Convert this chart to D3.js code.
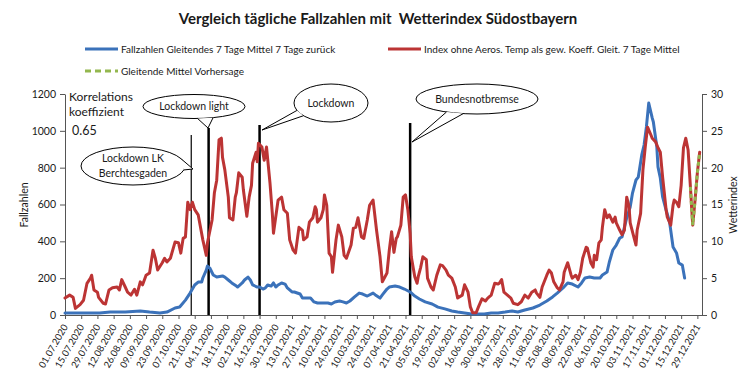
<!DOCTYPE html>
<html><head><meta charset="utf-8">
<script src="https://cdn.jsdelivr.net/npm/d3@7/dist/d3.min.js"></script>
<style>
body{margin:0;background:#fff}
svg{display:block}
text{font-family:Lato,"Liberation Sans",sans-serif;fill:#1a1a1a}
</style></head><body>
<svg id="c" width="756" height="379"></svg>
<script>
// ---------- DATA ----------
const startDate = "01.07.2020";
const xTickLabels = ["01.07.2020","15.07.2020","29.07.2020","12.08.2020","26.08.2020","09.09.2020","23.09.2020","07.10.2020","21.10.2020","04.11.2020","18.11.2020","02.12.2020","16.12.2020","30.12.2020","13.01.2021","27.01.2021","10.02.2021","24.02.2021","10.03.2021","24.03.2021","07.04.2021","21.04.2021","05.05.2021","19.05.2021","02.06.2021","16.06.2021","30.06.2021","14.07.2021","28.07.2021","11.08.2021","25.08.2021","08.09.2021","22.09.2021","06.10.2021","20.10.2021","03.11.2021","17.11.2021","01.12.2021","15.12.2021","29.12.2021"];
const leftTicks = [0,200,400,600,800,1000,1200];
const rightTicks = [0,5,10,15,20,25,30];

// day offsets from startDate
const blueDays = [0,13,30,39,52,65,73,82,88,95,
 99,104,108,112,115,118,119,122,123,125,
 128,131,136,138,141,144,148,149,153,155,
 158,160,162,166,168,171,173,175,178,180,
 182,184,187,190,192,196,198,203,205,209,
 212,215,218,223,227,230,233,237,240,243,
 246,250,254,257,261,266,268,272,274,278,
 280,285,289,293,298,302,306,311,317,322,
 328,334,339,345,351,356,362,368,374,380,
 386,391,397,404,410,416,421,425,430,434,
 438,443,446,449,453,457,462,464,468,470,
 473,476,479,481,485,488,490,493,495,498,
 500,502,504,507,508,511,512,514,516,519,
 522,525,528,530,533,535];
const blueValues = [11,11,11,16,16,22,16,11,16,38,
 43,81,119,163,179,179,201,244,266,255,
 217,206,212,206,190,174,157,152,174,190,
 206,190,163,152,152,141,147,163,157,174,
 152,163,174,168,147,125,125,114,92,92,
 92,71,65,65,65,60,71,76,71,65,
 76,98,119,114,103,119,109,92,109,141,
 152,157,152,141,125,103,87,71,60,43,
 33,22,16,11,5,5,5,11,11,16,
 22,16,27,38,54,76,98,119,147,174,
 168,152,174,201,206,201,201,217,233,288,
 353,380,418,424,527,586,662,733,749,869,
 923,1021,1151,1070,1048,912,804,744,641,570,
 505,369,337,282,271,201];

const redDays = [0,4,7,9,13,16,19,22,23,25,
 28,29,33,35,38,41,45,47,49,52,
 54,57,60,62,65,67,70,73,76,78,
 80,84,86,88,91,95,98,100,102,104,
 106,108,110,112,115,117,119,122,123,127,
 129,131,133,135,136,138,141,142,145,147,
 148,150,153,154,157,159,161,162,165,166,
 167,170,172,174,177,179,180,184,187,189,
 192,194,197,199,202,205,206,209,211,214,
 216,217,218,221,223,224,226,228,230,231,
 234,236,239,241,243,247,249,251,253,256,
 258,261,263,266,269,272,274,278,280,282,
 284,286,287,290,292,294,296,298,299,302,
 304,305,307,309,312,313,316,318,321,324,
 326,329,331,334,337,339,343,345,348,350,
 352,355,357,360,363,365,368,371,374,375,
 377,379,382,385,387,391,394,397,400,403,
 406,407,410,412,416,418,420,422,425,427,
 430,431,434,437,438,441,443,445,447,450,
 451,454,456,457,459,461,463,464,466,468,
 470,473,475,476,479,481,483,485,487,488,
 490,493,494,497,499,501,503,506,507,510,
 512,514,516,519,520,523,525,526,528,530,
 532,534,536,538,540,541,542,544,546,548];
const redValues = [2.3,2.7,2.4,0.9,1.4,2.0,4.3,5.0,5.4,3.4,
 3.1,2.4,1.6,1.5,3.4,3.7,3.8,3.4,4.8,3.8,
 3.1,2.7,3.5,2.7,4.5,4.1,5.4,5.7,8.8,7.7,
 6.1,7.1,7.7,7.2,7.7,9.9,9.8,8.4,10.4,10.6,
 15.3,14.3,15.3,14.3,13.6,11.9,10.2,8.1,9.8,12.9,
 16.6,18.3,23.8,24.0,21.4,19.7,16.0,13.2,12.9,16.0,
 16.6,19.3,18.7,17.0,13.4,16.0,17.6,20.6,22.1,20.8,
 23.3,22.8,21.0,22.8,17.9,13.8,11.1,15.6,16.0,14.3,
 13.8,10.2,8.8,8.4,11.9,11.5,10.2,10.6,12.6,13.2,
 14.7,14.3,12.6,13.2,14.3,16.3,14.9,8.4,7.9,5.8,
 10.2,12.2,10.6,8.1,7.7,9.5,11.8,11.9,13.2,10.6,
 10.4,12.9,14.9,15.6,11.5,7.9,4.5,5.7,8.8,11.3,
 8.5,10.4,10.6,12.2,16.0,16.3,14.3,11.1,7.9,5.2,
 4.3,5.2,6.4,7.9,7.5,5.0,3.8,3.4,5.4,6.8,
 6.7,6.1,5.4,5.0,3.8,2.3,2.7,4.1,3.1,1.1,
 0.3,0.3,1.1,2.2,1.9,2.3,2.7,4.3,4.2,4.3,
 4.8,3.1,2.7,2.3,1.6,1.4,1.8,2.7,2.3,3.1,
 3.4,3.0,2.4,3.8,5.4,6.1,5.7,4.5,3.7,3.4,
 4.5,5.8,7.1,5.4,5.0,5.4,4.8,5.8,7.7,9.2,
 9.1,7.1,6.5,8.1,7.5,9.8,10.2,11.9,14.3,13.2,
 13.6,12.6,13.3,12.5,11.5,10.9,11.5,16.0,14.7,12.5,
 11.3,9.5,11.5,13.8,19.7,22.8,25.5,24.4,24.0,23.5,
 22.7,22.1,18.7,14.3,13.3,12.2,14.9,15.6,15.3,14.7,
 17.6,22.7,24.0,22.4,17.4,14.7,12.2,15.6,19.3,22.1];

const forecastDays = [540,541,542,544,546,548];
const forecastValues = [17.4,14.7,12.2,15.6,19.3,22.1];

const eventDays = [109,124,168,298];
const eventLabels = [["Lockdown LK","Berchtesgaden"],["Lockdown light"],["Lockdown"],["Bundesnotbremse"]];

const title = "Vergleich tägliche Fallzahlen mit  Wetterindex Südostbayern";
const legendLabels = ["Fallzahlen Gleitendes 7 Tage Mittel 7 Tage zurück","Index ohne Aeros. Temp als gew. Koeff. Gleit. 7 Tage Mittel","Gleitende Mittel Vorhersage"];
const corrLabel = ["Korrelations","koeffizient","0.65"];

// ---------- STYLE / LAYOUT ----------
const BLUE="#3B72BA", RED="#BC3434", GREEN="#93B74E", AX="#555";
const L=65, R=702, T=94, B=315;
const svg = d3.select("#c");
const parse = d3.utcParse("%d.%m.%Y");
const t0 = parse(startDate);
const day = n => d3.utcDay.offset(t0, n);

const x = d3.scaleUtc().domain([t0, day(550)]).range([L, R]);
const yL = d3.scaleLinear().domain([0,1200]).range([B,T]);
const yR = d3.scaleLinear().domain([0,30]).range([B,T]);

// title
svg.append("text").attr("x",378).attr("y",24).attr("text-anchor","middle")
  .attr("xml:space","preserve").style("white-space","pre")
  .style("font-weight","bold").style("font-size","15px").text(title);

// legend
const lg = svg.append("g").style("font-size","10px");
const legendItems = [
  {x:85, y:49, c:BLUE, dash:null, t:legendLabels[0]},
  {x:388,y:49, c:RED, dash:null, t:legendLabels[1]},
  {x:85, y:71, c:GREEN, dash:"6,4", t:legendLabels[2]}];
legendItems.forEach(d=>{
  lg.append("line").attr("x1",d.x).attr("x2",d.x+33).attr("y1",d.y).attr("y2",d.y)
    .attr("stroke",d.c).attr("stroke-width",3).attr("stroke-dasharray",d.dash);
  lg.append("text").attr("x",d.x+36).attr("y",d.y+3.5).text(d.t);
});

// axes
const gL = svg.append("g").attr("transform",`translate(${L},0)`)
  .call(d3.axisLeft(yL).tickValues(leftTicks).tickFormat(d3.format("d")).tickSize(5).tickSizeOuter(0).tickPadding(4));
const gR = svg.append("g").attr("transform",`translate(${R},0)`)
  .call(d3.axisRight(yR).tickValues(rightTicks).tickFormat(d3.format("d")).tickSize(5).tickSizeOuter(0).tickPadding(4));
const tickDates = xTickLabels.map(parse);
const gB = svg.append("g").attr("transform",`translate(0,${B})`)
  .call(d3.axisBottom(x).tickValues(tickDates).tickFormat((d,i)=>xTickLabels[i]).tickSize(4).tickSizeOuter(0));
gB.selectAll("text").attr("x",0).attr("y",0).attr("dy","0.35em")
  .attr("text-anchor","end").attr("transform","translate(0,10) rotate(-60)")
  .style("font-size","9.5px");
[gL,gR].forEach(g=>g.selectAll("text").style("font-size","10.5px"));
[gL,gR,gB].forEach(g=>{
  g.selectAll("path,line").attr("stroke",AX).attr("stroke-width",1);
  g.selectAll("text").attr("fill","#1a1a1a").style("font-family","Lato,'Liberation Sans',sans-serif");
});

// axis titles
svg.append("text").attr("transform","translate(28,205) rotate(-90)").attr("text-anchor","middle")
  .style("font-size","10.5px").text("Fallzahlen");
svg.append("text").attr("transform","translate(737,205) rotate(-90)").attr("text-anchor","middle")
  .style("font-size","10.5px").text("Wetterindex");

// correlation text
svg.append("text").attr("x",69).attr("y",101).style("font-size","12px").text(corrLabel[0]);
svg.append("text").attr("x",69).attr("y",116).style("font-size","12px").text(corrLabel[1]);
svg.append("text").attr("x",72).attr("y",135).style("font-size","12.5px").text(corrLabel[2]);

// event lines
const eventTop = [135,128,125,123];
const eventWidth = [1.2,2.5,2.5,2.5];
eventDays.forEach((d,i)=>{
  svg.append("line").attr("x1",x(day(d))).attr("x2",x(day(d)))
    .attr("y1",eventTop[i]).attr("y2",B).attr("stroke","#000").attr("stroke-width",eventWidth[i]);
});

// series
const lineOf = (days, vals, y) => d3.line()
  .x((v,i)=>x(day(days[i]))).y(v=>y(v))(vals);
svg.append("path").attr("d",lineOf(blueDays,blueValues,yL))
  .attr("fill","none").attr("stroke",BLUE).attr("stroke-width",3).attr("stroke-linejoin","round").attr("stroke-linecap","round");
svg.append("path").attr("d",lineOf(redDays,redValues,yR))
  .attr("fill","none").attr("stroke",RED).attr("stroke-width",3).attr("stroke-linejoin","round").attr("stroke-linecap","round");
svg.append("path").attr("d",lineOf(forecastDays,forecastValues,yR))
  .attr("fill","none").attr("stroke",GREEN).attr("stroke-width",3).attr("stroke-dasharray","4,3");

// callouts
const callouts = [
  {cx:133,cy:166,rx:52,ry:19,a1:-22,a2:12,tip:[193,169],lines:eventLabels[0],ty:[162,177]},
  {cx:194,cy:106.5,rx:51,ry:12,a1:68,a2:86,tip:[208,128],lines:eventLabels[1],ty:[110]},
  {cx:331,cy:103,rx:37,ry:19,a1:138,a2:157,tip:[262,130],lines:eventLabels[2],ty:[107]},
  {cx:477,cy:99,rx:61,ry:15,a1:103,a2:120,tip:[412,142],lines:eventLabels[3],ty:[103]}];
callouts.forEach(c=>{
  const g = svg.append("g");
  const p = a => [c.cx + c.rx*Math.cos(a*Math.PI/180), c.cy + c.ry*Math.sin(a*Math.PI/180)];
  const b1 = p(c.a1), b2 = p(c.a2);
  g.append("ellipse").attr("cx",c.cx).attr("cy",c.cy).attr("rx",c.rx).attr("ry",c.ry)
    .attr("fill","#fff").attr("stroke","#000").attr("stroke-width",1);
  g.append("path").attr("d",`M${b1}L${c.tip}L${b2}Z`).attr("fill","#fff");
  g.append("path").attr("d",`M${b1}L${c.tip}L${b2}`).attr("fill","none").attr("stroke","#000").attr("stroke-width",1);
  c.lines.forEach((t,i)=>g.append("text").attr("x",c.cx).attr("y",c.ty[i])
    .attr("text-anchor","middle").style("font-size","10.5px").text(t));
});
</script></body></html>
